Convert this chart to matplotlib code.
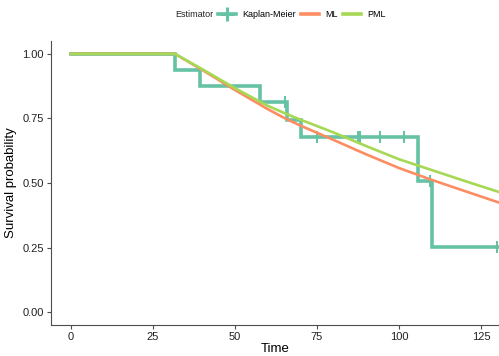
import matplotlib
matplotlib.use("Agg")
import matplotlib.pyplot as plt
from matplotlib.lines import Line2D
import numpy as np

plt.rcParams['font.family'] = ['Liberation Sans', 'DejaVu Sans']

# Kaplan-Meier step function
km_times = [0, 31.7, 39.3, 57.6, 65.9, 70.0, 105.9, 110.0, 131.0]
km_surv = [1.0, 0.9375, 0.875, 0.8125, 0.7448, 0.6771, 0.5078, 0.2539, 0.2539]
# censoring marks
cens_times = [65.2, 75.0, 87.6, 88.1, 94.2, 101.6, 109.5, 129.9]
cens_surv = [0.8125, 0.6771, 0.6771, 0.6771, 0.6771, 0.6771, 0.5078, 0.2539]

# parametric curves
curve_times = [0, 31.7, 40, 50, 60, 65, 70, 80, 90, 100, 110, 120, 131]
ml_surv = [1.0, 1.0, 0.938, 0.860, 0.786, 0.752, 0.722, 0.667, 0.611, 0.558, 0.512, 0.469, 0.422]
pml_surv = [1.0, 1.0, 0.941, 0.867, 0.799, 0.771, 0.745, 0.696, 0.643, 0.592, 0.550, 0.508, 0.463]

C_KM = '#66C2A5'
C_ML = '#FC8D62'
C_PML = '#A6D854'

fig = plt.figure(figsize=(4.99, 3.56), dpi=100)
ax = fig.add_axes([0.102, 0.087, 0.898, 0.798])

ax.step(km_times, km_surv, where='post', color=C_KM, lw=2.6, solid_joinstyle='miter')
ax.plot(cens_times, cens_surv, ls='none', marker='|', markersize=9, mew=1.5, color=C_KM)
ax.plot(curve_times, ml_surv, color=C_ML, lw=1.9, solid_joinstyle='round')
ax.plot(curve_times, pml_surv, color=C_PML, lw=1.9, solid_joinstyle='round')

ax.set_xlim(-6.1, 130.5)
ax.set_ylim(-0.05, 1.05)
ax.set_xticks([0, 25, 50, 75, 100, 125])
ax.set_yticks([0, 0.25, 0.5, 0.75, 1.0])
ax.set_yticklabels(['0.00', '0.25', '0.50', '0.75', '1.00'])
for s in ['top', 'right']:
    ax.spines[s].set_visible(False)
for s in ['left', 'bottom']:
    ax.spines[s].set_color('#4D4D4D')
    ax.spines[s].set_linewidth(0.8)
ax.tick_params(colors='#4D4D4D', labelcolor='#222222', labelsize=8, length=3, width=0.8, pad=2)
ax.set_xlabel('Time', fontsize=9.5, labelpad=1)
ax.set_ylabel('Survival probability', fontsize=9.5, labelpad=4)

handles = [
    Line2D([], [], color=C_KM, lw=2.6, marker='+', markersize=10, mew=2.2),
    Line2D([], [], color=C_ML, lw=2.6),
    Line2D([], [], color=C_PML, lw=2.6),
]
fig.text(0.351, 0.958, 'Estimator', fontsize=6.5, color='#222222', va='center', ha='left')
fig.legend(handles, ['Kaplan-Meier', 'ML', 'PML'], loc='center left',
           bbox_to_anchor=(0.436, 0.958), ncol=3, frameon=False, fontsize=6.5,
           handlelength=2.0, handletextpad=0.7, columnspacing=0.6, borderpad=0,
           borderaxespad=0)

fig.savefig('out.png', dpi=100)
